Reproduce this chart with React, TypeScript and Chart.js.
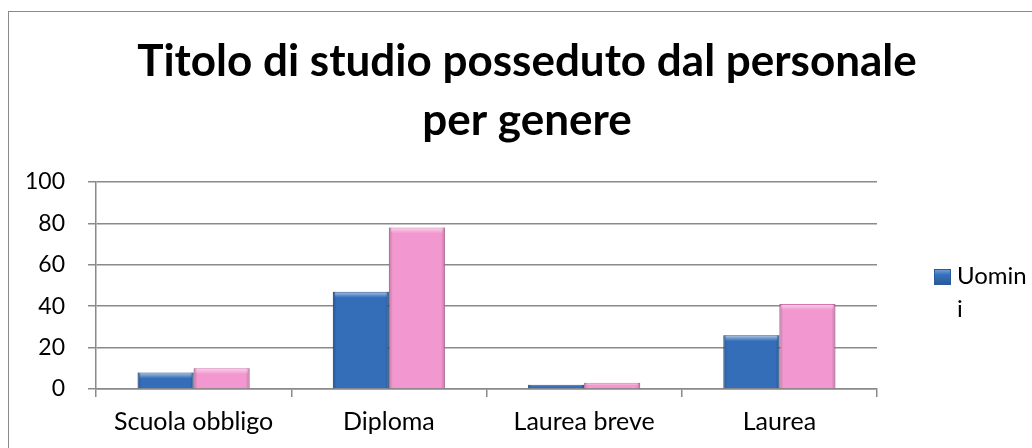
import React, { useEffect, useRef } from "react";
import { Chart, registerables } from "chart.js";

Chart.register(...registerables);

const categories = ["Scuola obbligo", "Diploma", "Laurea breve", "Laurea"];
const uomini = [8, 47, 2, 26];
const donne = [10, 78, 3, 41];
const yMin = 0;
const yMax = 100;
const yStep = 20;
const titleLines = ["Titolo di studio posseduto dal personale", "per genere"];
const seriesLabels = ["Uomini", "Donne"];

const FONT = "Lato, 'Open Sans', sans-serif";

const bevelPlugin = {
  id: "bevel",
  afterDatasetsDraw(chart: any) {
    const ctx = chart.ctx;
    chart.data.datasets.forEach((_ds: any, di: number) => {
      const meta = chart.getDatasetMeta(di);
      meta.data.forEach((el: any) => {
        const { x, y, base, width } = el.getProps(["x", "y", "base", "width"], true);
        const l = x - width / 2;
        const r = x + width / 2;
        const t = Math.min(y, base);
        const b = Math.max(y, base);
        const h = b - t;
        if (h <= 0) return;
        ctx.save();
        const g = ctx.createLinearGradient(l, 0, r, 0);
        g.addColorStop(0, "rgba(0,0,0,0.22)");
        g.addColorStop(0.07, "rgba(0,0,0,0.02)");
        g.addColorStop(0.93, "rgba(0,0,0,0.02)");
        g.addColorStop(1, "rgba(0,0,0,0.22)");
        ctx.fillStyle = g;
        ctx.fillRect(l, t, width, h);
        const th = Math.min(6, h / 2);
        const g2 = ctx.createLinearGradient(0, t, 0, t + th);
        g2.addColorStop(0, "rgba(255,255,255,0.6)");
        g2.addColorStop(1, "rgba(255,255,255,0)");
        ctx.fillStyle = g2;
        ctx.fillRect(l + 2, t + 1, width - 4, th);
        ctx.restore();
      });
    });
  },
};

export default function App() {
  const ref = useRef<HTMLCanvasElement | null>(null);

  useEffect(() => {
    if (!ref.current) return;
    const chart = new Chart(ref.current, {
      type: "bar",
      data: {
        labels: categories,
        datasets: [
          {
            label: seriesLabels[0],
            data: uomini,
            backgroundColor: "#3570BD",
            borderColor: "#2A5A99",
            borderWidth: 1,
            categoryPercentage: 0.574,
            barPercentage: 1,
          },
          {
            label: seriesLabels[1],
            data: donne,
            backgroundColor: "#F79AD3",
            borderColor: "#D97AB5",
            borderWidth: 1,
            categoryPercentage: 0.574,
            barPercentage: 1,
          },
        ],
      },
      options: {
        responsive: false,
        animation: false,
        devicePixelRatio: 1,
        layout: { padding: { left: 22, right: 0, top: 0, bottom: 0 } },
        plugins: {
          legend: { display: false },
          tooltip: { enabled: false },
          title: {
            display: true,
            text: titleLines,
            color: "#000",
            font: { family: FONT, size: 44, weight: "bold", lineHeight: 1.34 },
            padding: { top: 32, bottom: 32 },
          },
        },
        scales: {
          x: {
            offset: true,
            grid: {
              offset: true,
              drawOnChartArea: false,
              drawTicks: true,
              tickLength: 8,
              color: "#8a8a8a",
              lineWidth: 1.5,
            },
            border: { display: true, color: "#8a8a8a", width: 1.5 },
            ticks: {
              color: "#000",
              font: { family: FONT, size: 25 },
              padding: 10,
              maxRotation: 0,
            },
            afterFit: (s: any) => {
              s.height = 59;
            },
          },
          y: {
            min: yMin,
            max: yMax,
            ticks: {
              stepSize: yStep,
              color: "#000",
              font: { family: FONT, size: 23 },
              padding: 23,
            },
            grid: {
              color: "#8a8a8a",
              lineWidth: 1.5,
              tickLength: 8,
            },
            border: { display: true, color: "#8a8a8a", width: 1.5 },
            afterFit: (s: any) => {
              s.width = 74;
            },
          },
          yRight: {
            position: "right",
            display: true,
            grid: { display: false, drawTicks: false },
            border: { display: false },
            ticks: { display: false },
            afterFit: (s: any) => {
              s.width = 155;
            },
          },
        },
      },
      plugins: [bevelPlugin],
    } as any);
    return () => chart.destroy();
  }, []);

  return (
    <div
      style={{
        position: "fixed",
        left: 0,
        top: 0,
        width: 1032,
        height: 448,
        overflow: "hidden",
        background: "#fff",
      }}
    >
      <div
        style={{
          position: "absolute",
          left: 8,
          top: 11,
          width: 1040,
          height: 460,
          border: "1.5px solid #8a8a8a",
        }}
      />
      <canvas
        ref={ref}
        width={1032}
        height={448}
        style={{ position: "absolute", left: 0, top: 0, width: 1032, height: 448 }}
      />
      <div
        style={{
          position: "absolute",
          left: 934,
          top: 258,
          display: "flex",
          alignItems: "flex-start",
          fontFamily: FONT,
          fontSize: 24,
          lineHeight: "33px",
          color: "#000",
        }}
      >
        <span
          style={{
            display: "inline-block",
            width: 17,
            height: 16,
            marginTop: 11,
            marginRight: 6,
            background: "linear-gradient(180deg, #6F9BD6 0%, #3570BD 35%, #2A5A99 100%)",
            border: "1px solid #2A5A99",
            boxSizing: "border-box",
          }}
        />
        <span style={{ display: "inline-block", width: 72, wordBreak: "break-all" }}>
          {seriesLabels[0]}
        </span>
      </div>
    </div>
  );
}
